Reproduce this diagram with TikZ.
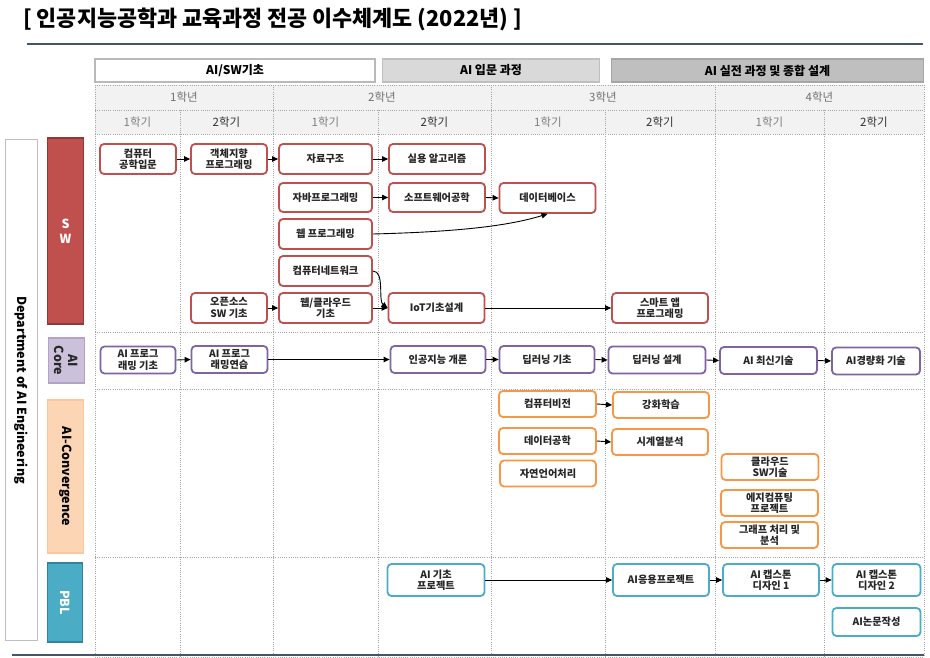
\documentclass[tikz,border=0pt]{standalone}
\usepackage{fontspec}
\setmainfont{Noto Sans CJK KR}
\usetikzlibrary{arrows.meta}
\definecolor{swred}{HTML}{C0504D}
\definecolor{swredD}{HTML}{8C3A38}
\definecolor{aipur}{HTML}{8064A2}
\definecolor{aicoreF}{HTML}{CCC1DA}
\definecolor{aicoreD}{HTML}{B3A2C7}
\definecolor{cvorg}{HTML}{F79646}
\definecolor{cvF}{HTML}{FCD5B4}
\definecolor{cvD}{HTML}{F9C8A0}
\definecolor{pblue}{HTML}{4BACC6}
\definecolor{pblueD}{HTML}{31849B}
\definecolor{navyline}{HTML}{44546A}
\definecolor{hdrfill}{HTML}{F2F2F2}
\definecolor{gridc}{HTML}{A6A6A6}
\definecolor{txtd}{HTML}{262626}
\newcommand\crsfont{\fontsize{10.2}{11.6}\selectfont\bfseries}
\begin{document}
\begin{tikzpicture}[x=1pt,y=-1pt,
  crs/.style={draw=#1, line width=1.8pt, rounded corners=4pt, fill=white, align=center,
    inner sep=1pt, font=\crsfont, text=txtd},
  sz/.style 2 args={minimum width=#1, minimum height=#2},
  grid/.style={draw=gridc, line width=0.6pt, dash pattern=on 1pt off 1.2pt},
  arr/.style={-{Triangle[length=6pt,width=5.5pt]}, line width=0.9pt, black},
  hdr/.style={line width=1.2pt, font=\fontsize{12}{14}\selectfont\bfseries, text=black, inner sep=0pt},
  yr/.style={font=\fontsize{11.5}{13}\selectfont, text=black!55},
  sem/.style={font=\fontsize{11.5}{13}\selectfont, text=black!#1},
  cat/.style={line width=1.2pt, font=\fontsize{12.5}{14}\selectfont\bfseries, align=center, inner sep=0pt}
]
\useasboundingbox (0,0) rectangle (930,658);

% title
\node[anchor=west, font=\fontsize{21.8}{26}\selectfont\bfseries, text=black, inner sep=0pt] (title) at (23,19) {[ 인공지능공학과 교육과정 전공 이수체계도 (2022년) ]};
\coordinate (tl1) at (27,44);
\coordinate (tl2) at (923,44);
\draw[navyline, line width=1.6pt] (tl1) -- (tl2);
\coordinate (bl1) at (12,655);
\coordinate (bl2) at (924,655);

% header boxes
\node[hdr, draw=gray!55, fill=white, sz={280}{23}] (h1) at (235,70.5) {AI/SW기초};
\node[hdr, draw=black!25, fill=black!15, sz={217}{23}] (h2) at (491,70.5) {AI 입문 과정};
\node[hdr, draw=black!35, fill=black!25, sz={312}{23}] (h3) at (767.5,70.5) {AI 실전 과정 및 종합 설계};

% header rows
\fill[hdrfill] (95,85) rectangle (924,134);
\foreach \yy in {85,110,134,332,389,557,657} \draw[grid] (95,\yy) -- (924,\yy);
\foreach \xx in {95,273,491,715,924} \draw[grid] (\xx,85) -- (\xx,657);
\foreach \xx in {180,378,605,824} \draw[grid] (\xx,110) -- (\xx,657);
\draw[navyline, line width=1.6pt] (bl1) -- (bl2);

\node[yr] (y1) at (184,97.5) {1학년};
\node[yr] (y2) at (382,97.5) {2학년};
\node[yr] (y3) at (603,97.5) {3학년};
\node[yr] (y4) at (819.5,97.5) {4학년};
\node[sem=50] (s1) at (137.5,122) {1학기};
\node[sem=80] (s2) at (226.5,122) {2학기};
\node[sem=50] (s3) at (325.5,122) {1학기};
\node[sem=80] (s4) at (434.5,122) {2학기};
\node[sem=50] (s5) at (548,122) {1학기};
\node[sem=80] (s6) at (660,122) {2학기};
\node[sem=50] (s7) at (769.5,122) {1학기};
\node[sem=80] (s8) at (874,122) {2학기};

% left labels
\node[draw=black!25, line width=1.5pt, fill=white, rotate=-90, minimum width=501, minimum height=32,
  font=\fontsize{12.5}{14}\selectfont\bfseries, inner sep=0pt] (dept) at (21.5,390) {Department of AI Engineering};
\node[cat, draw=swredD, fill=swred, text=white, sz={36}{186}] (cSW) at (65.5,231) {S\\[1pt]W};
\node[cat, draw=aicoreD, fill=aicoreF, text=black!85, rotate=-90, sz={45}{36}] (cAI) at (66.5,360.5) {AI\\Core};
\node[cat, draw=cvD, fill=cvF, text=black, rotate=-90, sz={153}{36}] (cCV) at (65.5,476.5) {AI-Convergence};
\node[cat, draw=pblueD, fill=pblue, text=white, rotate=-90, sz={79}{35}] (cPB) at (65,602.5) {PBL};

% SW courses
\node[crs=swred, sz={76}{30}] (cs1) at (138,159) {컴퓨터\\공학입문};
\node[crs=swred, sz={76}{30}] (cs2) at (229,159) {객체지향\\프로그래밍};
\node[crs=swred, sz={93}{30}] (cs3) at (325.5,159) {자료구조};
\node[crs=swred, sz={96}{30}] (cs4) at (437,159) {실용 알고리즘};
\node[crs=swred, sz={93}{29}] (cs5) at (325.5,197.5) {자바프로그래밍};
\node[crs=swred, sz={96}{29}] (cs6) at (437,197.5) {소프트웨어공학};
\node[crs=swred, sz={96}{30}] (cs7) at (547.5,198) {데이터베이스};
\node[crs=swred, sz={93}{30}] (cs8) at (325.5,234) {웹 프로그래밍};
\node[crs=swred, sz={93}{30}] (cs9) at (325.5,271) {컴퓨터네트워크};
\node[crs=swred, sz={76}{30}] (cs10) at (229,308) {오픈소스\\SW 기초};
\node[crs=swred, sz={93}{30}] (cs11) at (325.5,308) {웹/클라우드\\기초};
\node[crs=swred, sz={96}{30}] (cs12) at (436.5,308) {IoT기초설계};
\node[crs=swred, sz={96}{30}] (cs13) at (660,308) {스마트 앱\\프로그래밍};

% AI core
\node[crs=aipur, sz={75}{27}] (ac1) at (138,360) {AI 프로그\\래밍 기초};
\node[crs=aipur, sz={76}{27}] (ac2) at (229.5,359.5) {AI 프로그\\래밍연습};
\node[crs=aipur, sz={95}{27}] (ac3) at (438,359.5) {인공지능 개론};
\node[crs=aipur, sz={95}{27}] (ac4) at (547,359.5) {딥러닝 기초};
\node[crs=aipur, sz={97}{27}] (ac5) at (657,360) {딥러닝 설계};
\node[crs=aipur, sz={97}{27}] (ac6) at (768.5,360.5) {AI 최신기술};
\node[crs=aipur, sz={88}{27}] (ac7) at (876,361) {AI경량화 기술};

% convergence
\node[crs=cvorg, sz={97}{26}] (cv1) at (547.5,404) {컴퓨터비전};
\node[crs=cvorg, sz={96}{26}] (cv2) at (661,405) {강화학습};
\node[crs=cvorg, sz={97}{26}] (cv3) at (547.5,441) {데이터공학};
\node[crs=cvorg, sz={96}{26}] (cv4) at (660,442) {시계열분석};
\node[crs=cvorg, sz={96}{26}] (cv5) at (548,473.5) {자연언어처리};
\node[crs=cvorg, sz={97}{26}] (cv6) at (770,467) {클라우드\\SW기술};
\node[crs=cvorg, sz={97}{26}] (cv7) at (769.5,503) {에지컴퓨팅\\프로젝트};
\node[crs=cvorg, sz={97}{26}] (cv8) at (769.5,535) {그래프 처리 및\\분석};

% PBL
\node[crs=pblue, sz={97}{32}] (pb1) at (436,580) {AI 기초\\프로젝트};
\node[crs=pblue, sz={96}{32}] (pb2) at (661,580) {AI응용프로젝트};
\node[crs=pblue, sz={96}{32}] (pb3) at (771,580) {AI 캡스톤\\디자인 1};
\node[crs=pblue, sz={88}{32}] (pb4) at (876.5,580) {AI 캡스톤\\디자인 2};
\node[crs=pblue, sz={88}{28}] (pb5) at (876.5,622) {AI논문작성};

% arrows
\draw[arr] (cs1.east) -- (cs2.west);
\draw[arr] (cs2.east) -- (cs3.west);
\draw[arr] (cs3.east) -- (cs4.west);
\draw[arr] (cs5.east) -- (cs6.west);
\draw[arr] (cs6.east) -- (cs7.west);
\draw[arr] (cs8.east) .. controls (450,232) and (505,227) .. (cs7.south);
\draw[arr] (cs9.east) .. controls (385,271) and (378,301) .. (cs12.west);
\draw[arr] (cs10.east) -- (cs11.west);
\draw[arr] (cs11.east) -- (cs12.west);
\draw[arr] (cs12.east) -- (cs13.west);
\draw[arr] (ac1.east) -- (ac2.west);
\draw[arr] (ac2.east) -- (ac3.west);
\draw[arr] (ac3.east) -- (ac4.west);
\draw[arr] (ac4.east) -- (ac5.west);
\draw[arr] (ac5.east) -- (ac6.west);
\draw[arr] (ac6.east) -- (ac7.west);
\draw[arr] (cv1.east) -- (cv2.west);
\draw[arr] (cv3.east) -- (cv4.west);
\draw[arr] (pb1.east) -- (pb2.west);
\draw[arr] (pb2.east) -- (pb3.west);
\draw[arr] (pb3.east) -- (pb4.west);
\end{tikzpicture}
\end{document}
